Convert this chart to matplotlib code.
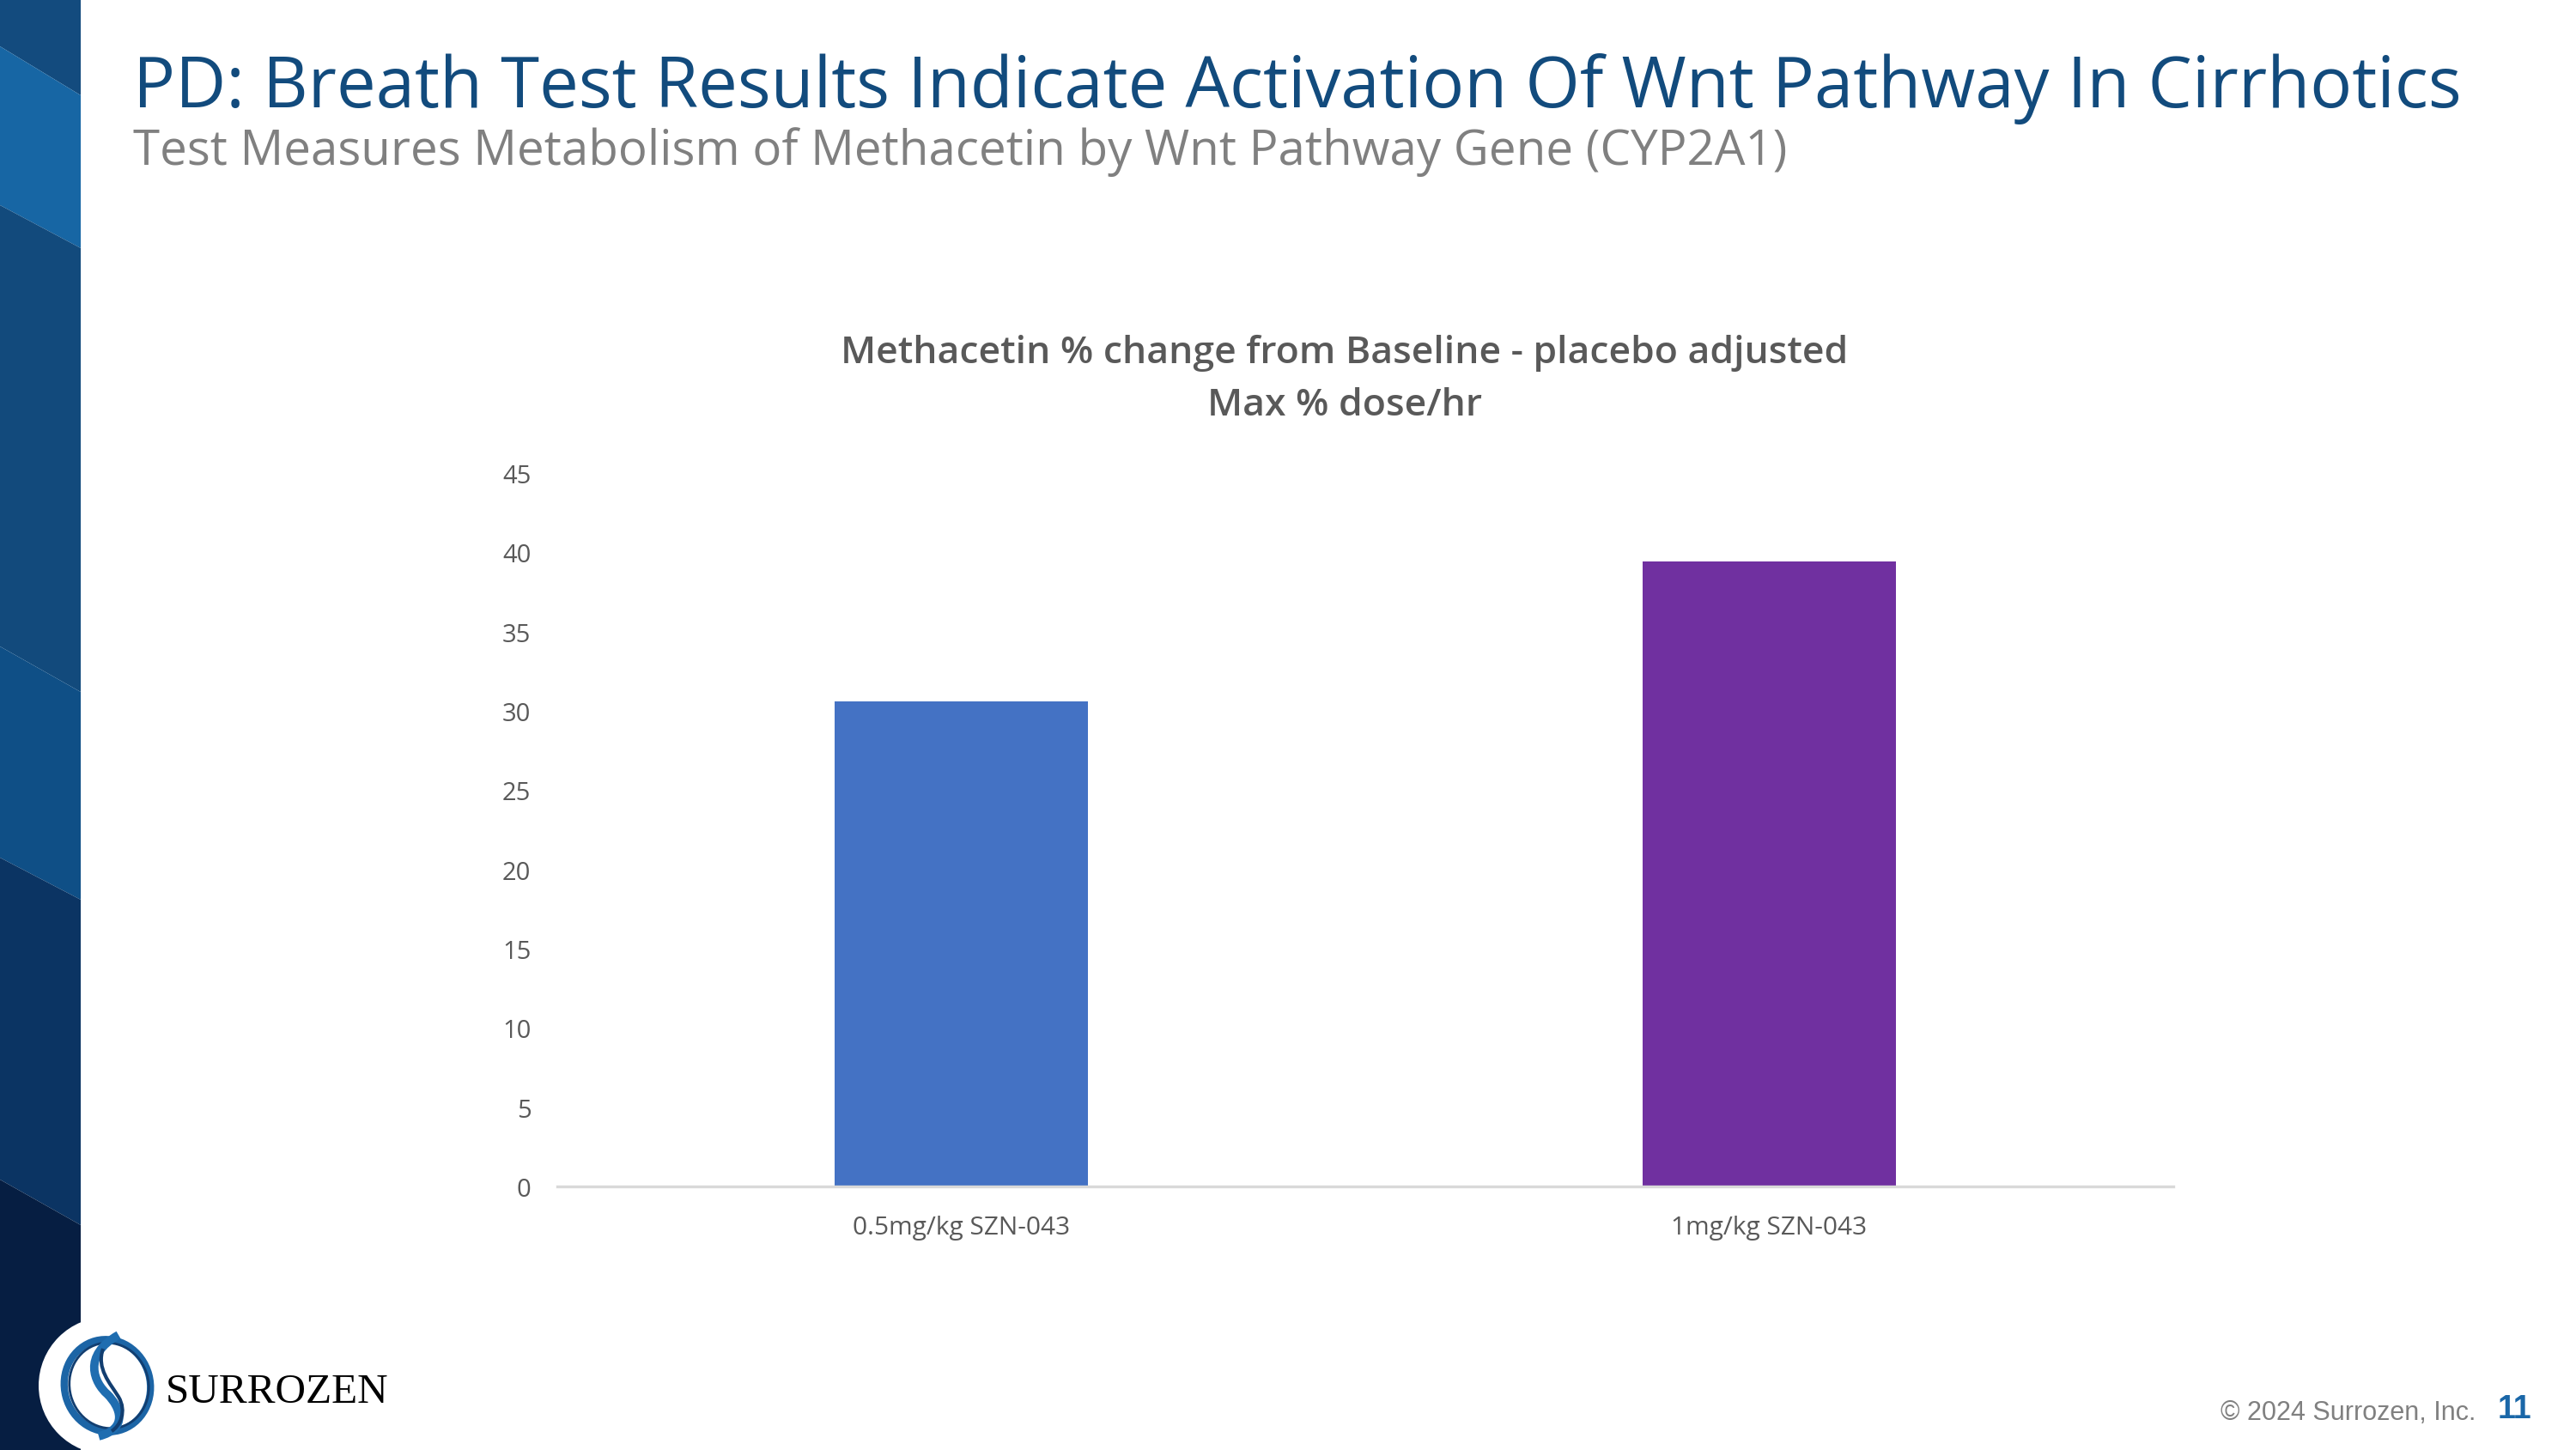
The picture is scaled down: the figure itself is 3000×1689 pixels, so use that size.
import matplotlib.pyplot as plt
from matplotlib.patches import Polygon, Circle, Ellipse, PathPatch
from matplotlib.path import Path

# chart data
categories = ["0.5mg/kg SZN-043", "1mg/kg SZN-043"]
values = [30.6, 39.4]
y_ticks = [0, 5, 10, 15, 20, 25, 30, 35, 40, 45]

title = "PD: Breath Test Results Indicate Activation Of Wnt Pathway In Cirrhotics"
subtitle = "Test Measures Metabolism of Methacetin by Wnt Pathway Gene (CYP2A1)"
chart_title = ["Methacetin % change from Baseline - placebo adjusted", "Max % dose/hr"]

W, H = 3000, 1690
fig = plt.figure(figsize=(W / 100, H / 100), dpi=100)
fig.patch.set_facecolor("white")

# overlay in pixel coordinates for the slide decoration
deco = fig.add_axes([0, 0, 1, 1])
deco.set_xlim(0, W)
deco.set_ylim(H, 0)
deco.axis("off")

# left band, cut by slanted edges
band_w = 94
cuts = [(0, 0), (55, 112), (240, 290), (754, 807), (1000, 1049), (1375, 1428), (H, H)]
band_cols = ["#134b7e", "#1766a4", "#124a7c", "#0f4f86", "#0b3463", "#061e42"]
for i, col in enumerate(band_cols):
    a, b = cuts[i], cuts[i + 1]
    deco.add_patch(Polygon([(0, a[0]), (band_w, a[1]), (band_w, b[1]), (0, b[0])],
                           closed=True, facecolor=col, edgecolor="none"))

# logo: white disc, ring and S swirl
deco.add_patch(Circle((125, 1615), 80, facecolor="white", edgecolor="none", zorder=3))
deco.add_patch(Ellipse((125, 1615), 100, 108, angle=-15, facecolor="none",
                       edgecolor="#1c65a6", lw=6, zorder=4))
deco.add_patch(Ellipse((127, 1615), 92, 100, angle=-15, facecolor="none",
                       edgecolor="#123e70", lw=2, zorder=4))
s1 = Path([(138, 1556), (95, 1580), (110, 1612), (125, 1625), (140, 1640), (150, 1665), (115, 1674)],
          [Path.MOVETO, Path.CURVE4, Path.CURVE4, Path.CURVE4, Path.CURVE4, Path.CURVE4, Path.CURVE4])
deco.add_patch(PathPatch(s1, facecolor="none", edgecolor="#1f6db0", lw=7, zorder=5))
s2 = Path([(120, 1572), (112, 1595), (128, 1612), (138, 1628), (148, 1645), (140, 1662), (130, 1668)],
          [Path.MOVETO, Path.CURVE4, Path.CURVE4, Path.CURVE4, Path.CURVE4, Path.CURVE4, Path.CURVE4])
deco.add_patch(PathPatch(s2, facecolor="none", edgecolor="#123e70", lw=3, zorder=5))
deco.text(193, 1634, "SURROZEN", family="Liberation Serif", fontsize=35.5, color="black",
          va="baseline", ha="left", zorder=5)

# headings
deco.text(155, 125, title, family="Open Sans", fontsize=58.7, color="#124b7d", va="baseline")
deco.text(155, 192, subtitle, family="Open Sans", fontsize=40.7, color="#808080", va="baseline")

# chart title
deco.text(1566, 423, chart_title[0], family="Open Sans", fontsize=32, weight="semibold",
          color="#595959", ha="center", va="baseline")
deco.text(1566, 484, chart_title[1], family="Open Sans", fontsize=32, weight="semibold",
          color="#595959", ha="center", va="baseline")

# footer
deco.text(2883, 1654, "\u00a9 2024 Surrozen, Inc.", family="Liberation Sans", fontsize=22,
          color="#808080", ha="right", va="baseline")
deco.text(2928, 1652, "11", family="Liberation Sans", fontsize=27, weight="bold",
          color="#1a67a8", ha="center", va="baseline")

# bar chart
x0, x1 = 649, 2531
y0, y45 = 1383, 552
ax = fig.add_axes([x0 / W, (H - y0) / H, (x1 - x0) / W, (y0 - y45) / H])
ax.set_facecolor("none")
ax.bar(range(len(categories)), values, width=0.313, color=["#4472c4", "#7030a0"], zorder=2)
ax.set_xlim(-0.5, len(categories) - 0.5)
ax.set_ylim(0, 45)
ax.set_yticks(y_ticks)
ax.set_xticks(range(len(categories)))
ax.set_xticklabels(categories)
for s in ["top", "right", "left"]:
    ax.spines[s].set_visible(False)
ax.spines["bottom"].set_color("#d9d9d9")
ax.spines["bottom"].set_linewidth(2.4)
ax.tick_params(axis="both", length=0, colors="#595959")
ax.tick_params(axis="y", pad=22, labelsize=21)
ax.tick_params(axis="x", pad=24, labelsize=21.5)
for lab in ax.get_xticklabels() + ax.get_yticklabels():
    lab.set_family("Open Sans")
    lab.set_weight("medium")

fig.savefig("out.png", dpi=100, facecolor="white")
